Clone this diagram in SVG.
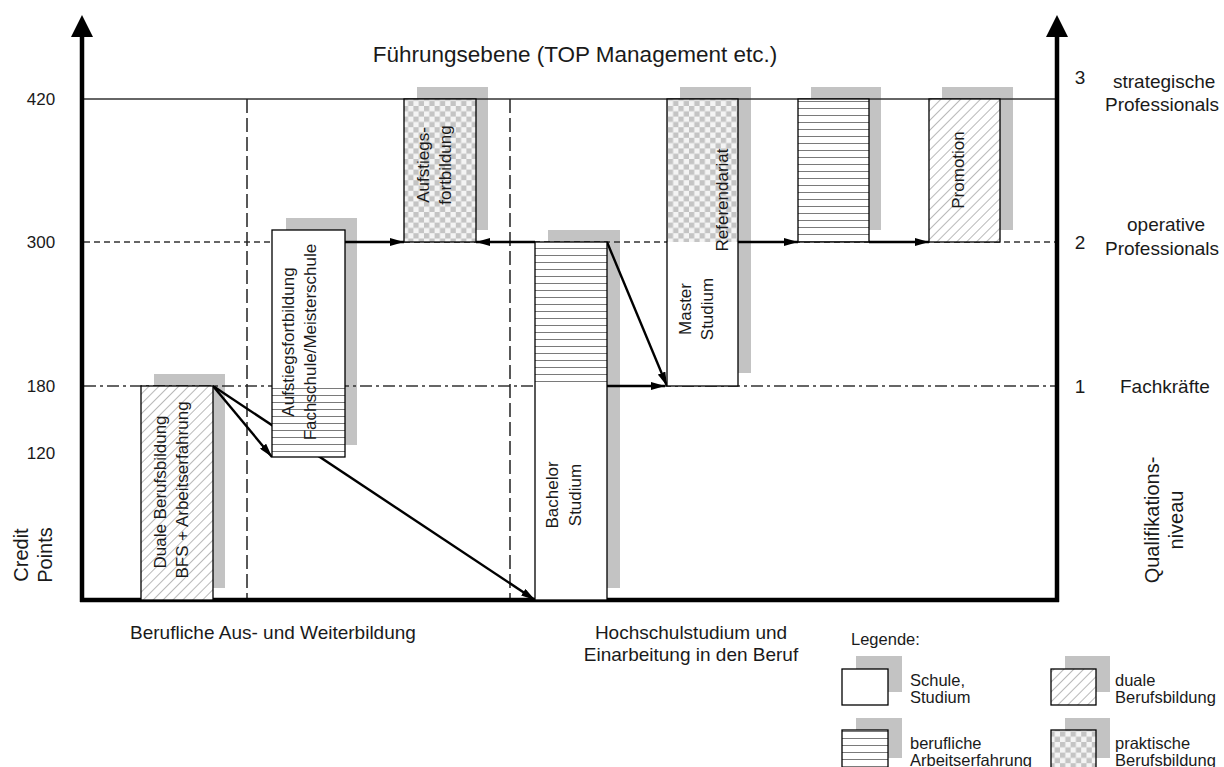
<svg xmlns="http://www.w3.org/2000/svg" width="1224" height="767" viewBox="0 0 1224 767">
  <style>
    text { font-family: "Liberation Sans", Arial, sans-serif; fill: #1a1a1a; }
    .t17 { font-size: 17px; }
    .t19 { font-size: 19px; }
    .t20 { font-size: 20px; }
    .leg { font-size: 16.5px; }
    .rot { text-anchor: middle; dominant-baseline: central; font-size: 17px; }
    .box { stroke: #000; stroke-width: 1.3; }
    .shadow { fill: #c3c3c3; }
    .axis { stroke: #000; stroke-width: 4.5; fill: none; }
    .conn { stroke: #000; stroke-width: 2.4; fill: none; marker-end: url(#head); }
  </style>
  <defs>
    <pattern id="hatch" width="7" height="7" patternUnits="userSpaceOnUse" patternTransform="rotate(45)">
      <rect width="7" height="7" fill="#fff"/>
      <line x1="0" y1="0" x2="0" y2="7" stroke="#8a8a8a" stroke-width="1.2"/>
    </pattern>
    <pattern id="stripes" width="8" height="7" patternUnits="userSpaceOnUse">
      <rect width="8" height="7" fill="#fff"/>
      <line x1="0" y1="3.5" x2="8" y2="3.5" stroke="#7a7a7a" stroke-width="1"/>
    </pattern>
    <pattern id="checker" width="10.6" height="10.6" patternUnits="userSpaceOnUse">
      <rect width="10.6" height="10.6" fill="#f4f4f4"/>
      <rect width="5.3" height="5.3" fill="#c4c4c4"/>
      <rect x="5.3" y="5.3" width="5.3" height="5.3" fill="#c4c4c4"/>
    </pattern>
    <marker id="head" viewBox="0 0 14 8" refX="14" refY="4" markerWidth="14" markerHeight="8" markerUnits="userSpaceOnUse" orient="auto">
      <path d="M0,0 L14,4 L0,8 Z" fill="#000"/>
    </marker>
  </defs>

  <rect width="1224" height="767" fill="#fff"/>

  <!-- drop shadows of the bars (drawn underneath everything else) -->
  <g id="shadows">
    <rect class="shadow" x="154" y="374" width="71" height="214"/>
    <rect class="shadow" x="286" y="218" width="71" height="227"/>
    <rect class="shadow" x="417" y="87" width="71" height="143"/>
    <rect class="shadow" x="548" y="230" width="72" height="358"/>
    <rect class="shadow" x="680" y="87" width="71" height="286"/>
    <rect class="shadow" x="811" y="87" width="70" height="143"/>
    <rect class="shadow" x="942" y="87" width="71" height="143"/>
    <rect class="shadow" x="856" y="656" width="46" height="36"/>
    <rect class="shadow" x="1065" y="656" width="45" height="36"/>
    <rect class="shadow" x="856" y="718" width="46" height="40"/>
    <rect class="shadow" x="1065" y="718" width="45" height="40"/>
  </g>

  <!-- level lines and section dividers -->
  <g id="grid">
    <line x1="84" y1="99" x2="1057" y2="99" stroke="#333" stroke-width="1.5"/>
    <line x1="84" y1="242" x2="1057" y2="242" stroke="#333" stroke-width="1.3" stroke-dasharray="6 4"/>
    <line x1="84" y1="386" x2="1057" y2="386" stroke="#333" stroke-width="1.3" stroke-dasharray="12 4 3 4"/>
    <line x1="247" y1="99" x2="247" y2="600" stroke="#222" stroke-width="1.5" stroke-dasharray="14 5"/>
    <line x1="510" y1="99" x2="510" y2="600" stroke="#222" stroke-width="1.5" stroke-dasharray="14 5"/>
  </g>

  <!-- axes -->
  <g id="axes">
    <line class="axis" x1="82" y1="602" x2="82" y2="30"/>
    <path d="M82,15 L93,37 L71,37 Z" fill="#000"/>
    <line class="axis" x1="1057" y1="602" x2="1057" y2="30"/>
    <path d="M1057,15 L1068,37 L1046,37 Z" fill="#000"/>
    <line class="axis" x1="80" y1="600" x2="1059" y2="600"/>
  </g>

  <!-- transitions between qualifications -->
  <g id="connectors">
    <line class="conn" x1="213" y1="386" x2="535" y2="600"/>
    <line class="conn" x1="213" y1="386" x2="272" y2="457"/>
    <line class="conn" x1="345" y1="242" x2="404" y2="242"/>
    <line class="conn" x1="535" y1="242" x2="476" y2="242"/>
    <line class="conn" x1="607" y1="242" x2="667" y2="386"/>
    <line class="conn" x1="607" y1="386" x2="665" y2="386"/>
    <line class="conn" x1="738" y1="242" x2="798" y2="242"/>
    <line class="conn" x1="869" y1="242" x2="929" y2="242"/>
  </g>

  <g id="duale-berufsbildung">
    <rect class="box" x="141" y="386" width="72" height="214" fill="url(#hatch)"/>
    <text class="rot" transform="translate(160,492) rotate(-90)">Duale Berufsbildung</text>
    <text class="rot" transform="translate(182,490) rotate(-90)">BFS + Arbeitserfahrung</text>
  </g>

  <g id="aufstiegsfortbildung-fachschule">
    <rect x="272" y="230" width="73" height="227" fill="#fff"/>
    <rect x="272" y="386" width="73" height="71" fill="url(#stripes)"/>
    <rect class="box" x="272" y="230" width="73" height="227" fill="none"/>
    <text class="rot" transform="translate(288,342) rotate(-90)">Aufstiegsfortbildung</text>
    <text class="rot" transform="translate(310,342) rotate(-90)">Fachschule/Meisterschule</text>
  </g>

  <g id="aufstiegsfortbildung">
    <rect class="box" x="404" y="99" width="72" height="143" fill="url(#checker)"/>
    <text class="rot" transform="translate(423,165) rotate(-90)">Aufstiegs-</text>
    <text class="rot" transform="translate(445,165) rotate(-90)">fortbildung</text>
  </g>

  <g id="bachelor-studium">
    <rect x="535" y="242" width="72" height="358" fill="#fff"/>
    <rect x="535" y="242" width="72" height="144" fill="url(#stripes)"/>
    <rect class="box" x="535" y="242" width="72" height="358" fill="none"/>
    <text class="rot" transform="translate(552,495) rotate(-90)">Bachelor</text>
    <text class="rot" transform="translate(575,495) rotate(-90)">Studium</text>
  </g>

  <g id="master-studium">
    <rect x="667" y="99" width="71" height="287" fill="#fff"/>
    <rect x="667" y="99" width="71" height="143" fill="url(#checker)"/>
    <rect class="box" x="667" y="99" width="71" height="287" fill="none"/>
    <text class="rot" transform="translate(685,309) rotate(-90)">Master</text>
    <text class="rot" transform="translate(707,309) rotate(-90)">Studium</text>
    <text class="rot" transform="translate(722,200) rotate(-90)">Referendariat</text>
  </g>

  <g id="berufserfahrung">
    <rect class="box" x="798" y="99" width="71" height="143" fill="url(#stripes)"/>
  </g>

  <g id="promotion">
    <rect class="box" x="929" y="99" width="71" height="143" fill="url(#hatch)"/>
    <text class="rot" transform="translate(958,170) rotate(-90)">Promotion</text>
  </g>

  <!-- axis and section captions -->
  <g id="labels">
    <text x="575" y="62" text-anchor="middle" style="font-size:22.5px">Führungsebene (TOP Management etc.)</text>
    <text class="t17" x="41" y="105" text-anchor="middle">420</text>
    <text class="t17" x="41" y="248" text-anchor="middle">300</text>
    <text class="t17" x="41" y="392" text-anchor="middle">180</text>
    <text class="t17" x="41" y="459" text-anchor="middle">120</text>
    <text class="t20" text-anchor="middle" dominant-baseline="central" transform="translate(21,555) rotate(-90)">Credit</text>
    <text class="t20" text-anchor="middle" dominant-baseline="central" transform="translate(45,555) rotate(-90)">Points</text>

    <text class="t19" x="1080" y="84" text-anchor="middle">3</text>
    <text class="t19" x="1113" y="88">strategische</text>
    <text class="t19" x="1105" y="111">Professionals</text>
    <text class="t19" x="1080" y="249" text-anchor="middle">2</text>
    <text class="t19" x="1127" y="231">operative</text>
    <text class="t19" x="1105" y="255">Professionals</text>
    <text class="t19" x="1080" y="393" text-anchor="middle">1</text>
    <text class="t19" x="1120" y="393">Fachkräfte</text>
    <text class="t20" text-anchor="middle" dominant-baseline="central" transform="translate(1152,520) rotate(-90)">Qualifikations-</text>
    <text class="t20" text-anchor="middle" dominant-baseline="central" transform="translate(1176,520) rotate(-90)">niveau</text>

    <text class="t19" x="130" y="639">Berufliche Aus- und Weiterbildung</text>
    <text class="t19" x="691" y="639" text-anchor="middle">Hochschulstudium und</text>
    <text class="t19" x="691" y="661" text-anchor="middle">Einarbeitung in den Beruf</text>
  </g>

  <!-- legend -->
  <g id="legend">
    <text class="leg" x="851" y="645">Legende:</text>
    <rect class="box" x="842" y="669" width="46" height="36" fill="#fff"/>
    <text class="leg" x="910" y="686">Schule,</text>
    <text class="leg" x="910" y="703">Studium</text>
    <rect class="box" x="1051" y="669" width="45" height="36" fill="url(#hatch)"/>
    <text class="leg" x="1115" y="686">duale</text>
    <text class="leg" x="1115" y="703">Berufsbildung</text>
    <rect class="box" x="842" y="730" width="46" height="42" fill="url(#stripes)"/>
    <text class="leg" x="910" y="749">berufliche</text>
    <text class="leg" x="910" y="766">Arbeitserfahrung</text>
    <rect class="box" x="1051" y="730" width="45" height="42" fill="url(#checker)"/>
    <text class="leg" x="1115" y="749">praktische</text>
    <text class="leg" x="1115" y="766">Berufsbildung</text>
  </g>
</svg>
